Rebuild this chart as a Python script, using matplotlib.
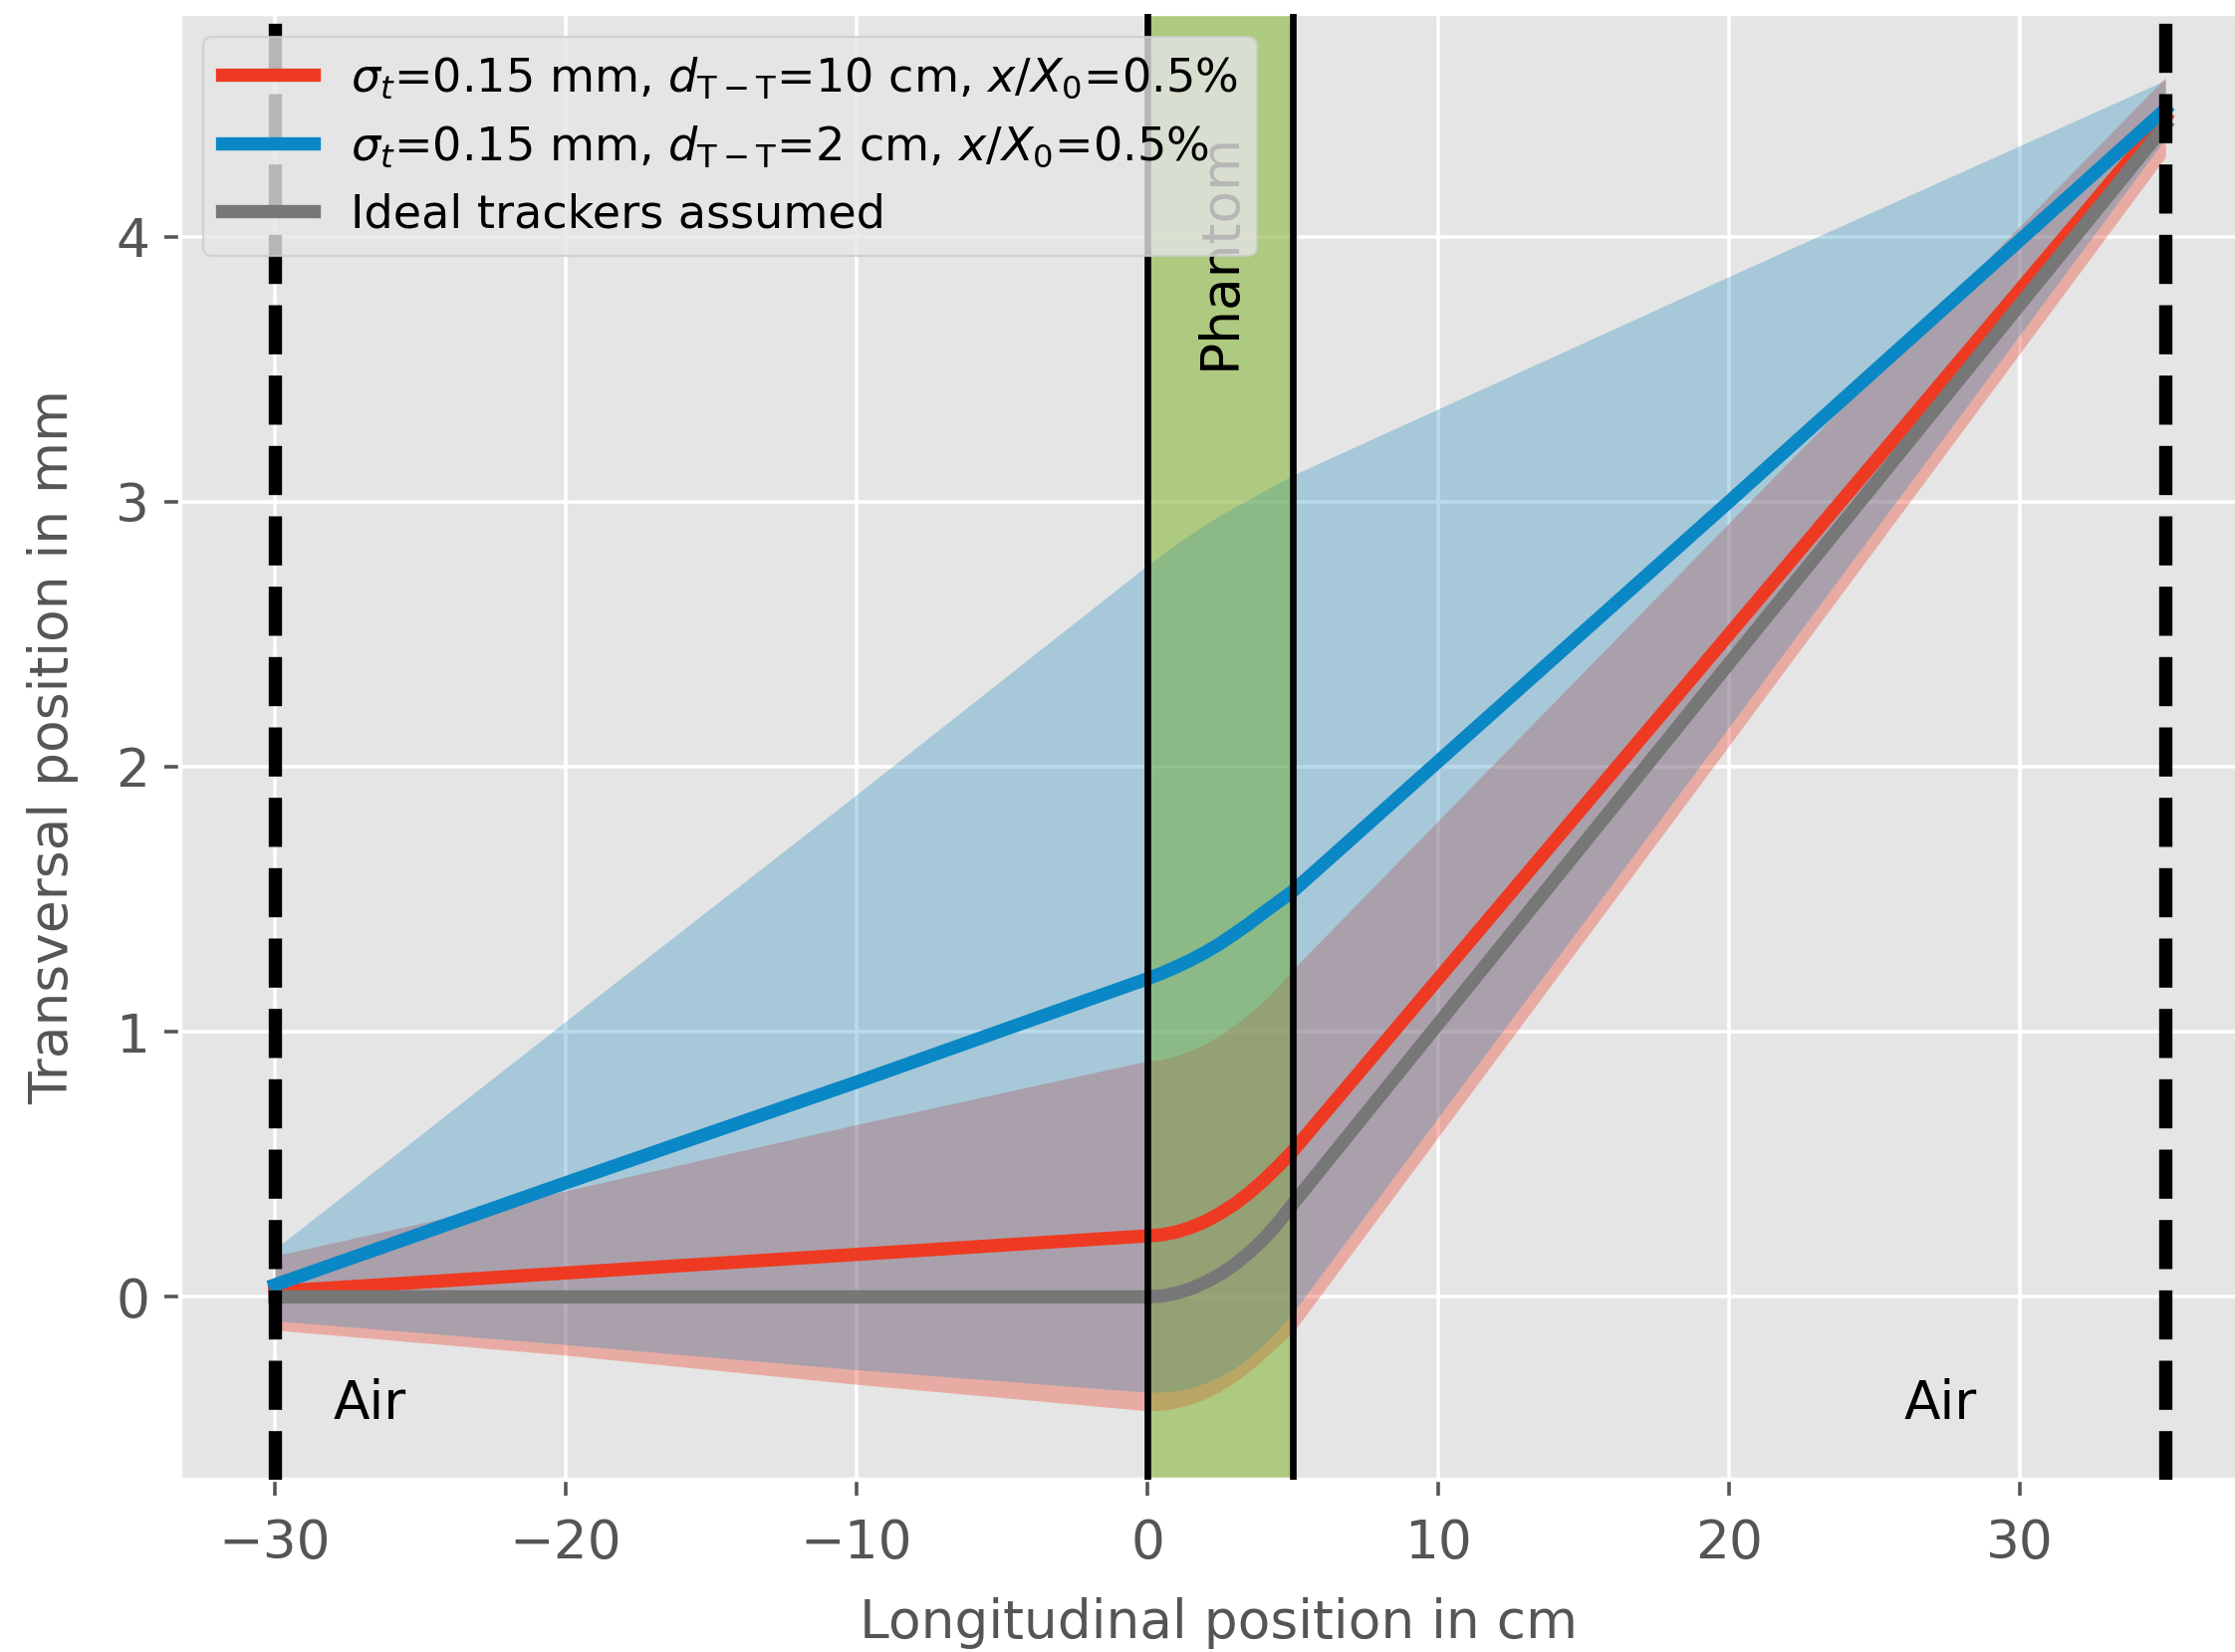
import matplotlib
matplotlib.use("Agg")
import matplotlib.pyplot as plt

# Longitudinal sampling points (cm); phantom occupies 0..5 cm
x_cm = [-30, -20, -10, 0, 0.5, 1, 1.5, 2, 2.5, 3, 3.5, 4, 4.5, 5, 20, 35]

# Most likely path estimates (mm)
path_red = [0.02, 0.09, 0.16, 0.23, 0.234, 0.245, 0.262, 0.285, 0.315, 0.35,
            0.392, 0.44, 0.493, 0.55, 2.50, 4.45]
path_blue = [0.045, 0.43, 0.81, 1.20, 1.221, 1.245, 1.271, 1.30, 1.333, 1.37,
             1.408, 1.45, 1.49, 1.53, 3.00, 4.48]
path_ideal = [0.0, 0.0, 0.0, 0.0, 0.003, 0.014, 0.031, 0.055, 0.085, 0.122,
              0.167, 0.218, 0.28, 0.35, 2.39, 4.42]

# Uncertainty envelopes (mm)
red_lo = [-0.125, -0.22, -0.33, -0.43, -0.428, -0.42, -0.405, -0.385, -0.357, -0.322,
          -0.282, -0.235, -0.184, -0.135, 2.08, 4.30]
red_hi = [0.155, 0.40, 0.65, 0.89, 0.896, 0.91, 0.93, 0.955, 0.987, 1.025,
          1.068, 1.115, 1.172, 1.235, 2.92, 4.60]
blue_lo = [-0.09, -0.18, -0.275, -0.36, -0.359, -0.355, -0.343, -0.325, -0.30, -0.27,
           -0.23, -0.18, -0.125, -0.06, 2.15, 4.37]
blue_hi = [0.18, 1.04, 1.895, 2.76, 2.80, 2.84, 2.878, 2.915, 2.948, 2.98,
           3.01, 3.04, 3.07, 3.10, 3.85, 4.59]

labels = [
    r"$\sigma_t$=0.15 mm, $d_{\rm T-T}$=10 cm, $x/X_0$=0.5%",
    r"$\sigma_t$=0.15 mm, $d_{\rm T-T}$=2 cm, $x/X_0$=0.5%",
    "Ideal trackers assumed",
]
x_ticks = [-30, -20, -10, 0, 10, 20, 30]
y_ticks = [0, 1, 2, 3, 4]
tracker_pos = [-30, 35]
phantom_edges = [0, 5]

plt.style.use("ggplot")

DPI = 320
fig = plt.figure(figsize=(2244 / DPI, 1659 / DPI), dpi=DPI)
ax = fig.add_axes([181 / 2244, 1 - 1486 / 1659, 2088 / 2244, 1472 / 1659])

# Phantom region (base tint)
ax.axvspan(phantom_edges[0], phantom_edges[1], color="#8EBA42", alpha=0.45, lw=0, zorder=1.5)

# Envelopes
ax.fill_between(x_cm, red_lo, red_hi, color="#F0402A", alpha=0.35, lw=0, zorder=2)
ax.fill_between(x_cm, blue_lo, blue_hi, color="#1A88C0", alpha=0.3, lw=0, zorder=2.1)

# Phantom region (overlay tint)
ax.axvspan(phantom_edges[0], phantom_edges[1], color="#8EBA42", alpha=0.3, lw=0, zorder=2.5)

# Paths
ax.plot(x_cm, path_red, color="#EE3A22", lw=3, zorder=3, label=labels[0])
ax.plot(x_cm, path_blue, color="#0A87C5", lw=3, zorder=3, label=labels[1])
ax.plot(x_cm, path_ideal, color="#777777", lw=3, zorder=3, label=labels[2])

# Tracker planes and phantom boundaries
for xp in tracker_pos:
    ax.axvline(xp, color="black", lw=3, ls="--", zorder=4)
for xp in phantom_edges:
    ax.axvline(xp, color="black", lw=1.5, zorder=4)

ax.text(2.5, 3.5, "Phantom", rotation=90, ha="center", va="bottom", fontsize=12, zorder=3.5)
ax.text(-28, -0.46, "Air", ha="left", va="baseline", fontsize=12, zorder=3.5)
ax.text(26, -0.46, "Air", ha="left", va="baseline", fontsize=12, zorder=3.5)

ax.set_xlim(-33.25, 38.25)
ax.set_ylim(-0.69, 4.84)
ax.set_xticks(x_ticks)
ax.set_yticks(y_ticks)
ax.tick_params(labelsize=12)
ax.tick_params(axis="x", pad=5)

ax.set_xlabel("Longitudinal position in cm", fontsize=12)
ax.set_ylabel("Transversal position in mm", fontsize=12)
ax.xaxis.set_label_coords(0.4995, -0.08)
ax.yaxis.set_label_coords(-0.049, 0.5)

ax.legend(loc="upper left", fontsize=10.4)

fig.savefig("out.png", dpi=DPI)
